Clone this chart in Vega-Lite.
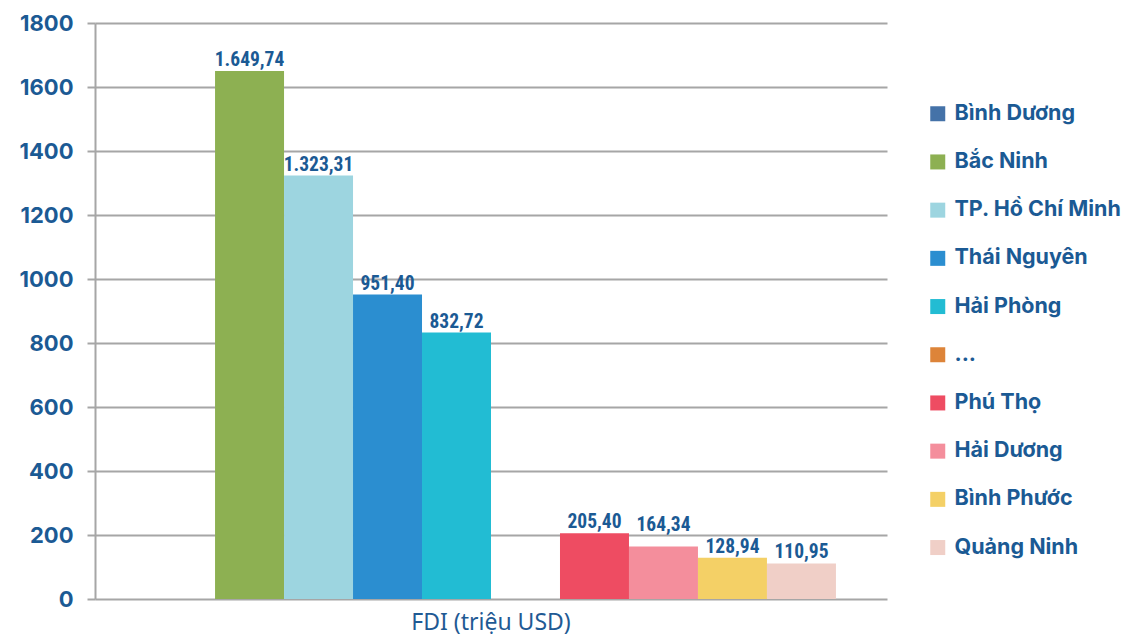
{
  "$schema": "https://vega.github.io/schema/vega-lite/v6.json",
  "autosize": {"type": "none"},
  "width": 792,
  "height": 576,
  "padding": {"left": 95, "top": 23, "right": 243, "bottom": 38},
  "background": "white",
  "data": {
    "values": [
      {"group": "FDI (triệu USD)", "region": "Bình Dương", "value": null, "label": ""},
      {"group": "FDI (triệu USD)", "region": "Bắc Ninh", "value": 1649.74, "label": "1.649,74"},
      {"group": "FDI (triệu USD)", "region": "TP. Hồ Chí Minh", "value": 1323.31, "label": "1.323,31"},
      {"group": "FDI (triệu USD)", "region": "Thái Nguyên", "value": 951.40, "label": "951,40"},
      {"group": "FDI (triệu USD)", "region": "Hải Phòng", "value": 832.72, "label": "832,72"},
      {"group": "FDI (triệu USD)", "region": "...", "value": null, "label": ""},
      {"group": "FDI (triệu USD)", "region": "Phú Thọ", "value": 205.40, "label": "205,40"},
      {"group": "FDI (triệu USD)", "region": "Hải Dương", "value": 164.34, "label": "164,34"},
      {"group": "FDI (triệu USD)", "region": "Bình Phước", "value": 128.94, "label": "128,94"},
      {"group": "FDI (triệu USD)", "region": "Quảng Ninh", "value": 110.95, "label": "110,95"}
    ]
  },
  "encoding": {
    "x": {
      "field": "group", "type": "nominal",
      "scale": {"paddingInner": 0, "paddingOuter": 0.074},
      "axis": {
        "title": null, "labelAngle": 0, "ticks": false, "domain": false,
        "labelFont": "Noto Sans", "labelFontSize": 23, "labelFontWeight": "normal",
        "labelColor": "#1F5A94", "labelPadding": 12
      }
    },
    "xOffset": {
      "field": "region", "type": "nominal",
      "scale": {
        "domain": ["Bình Dương", "Bắc Ninh", "TP. Hồ Chí Minh", "Thái Nguyên", "Hải Phòng", "...", "Phú Thọ", "Hải Dương", "Bình Phước", "Quảng Ninh"],
        "paddingInner": 0, "paddingOuter": 0
      }
    },
    "y": {
      "field": "value", "type": "quantitative",
      "scale": {"domain": [0, 1800], "nice": false},
      "axis": {
        "title": null, "values": [0, 200, 400, 600, 800, 1000, 1200, 1400, 1600, 1800],
        "format": "d",
        "grid": true, "gridColor": "#A6A6A6", "gridWidth": 2,
        "domain": true, "domainColor": "#A6A6A6", "domainWidth": 2,
        "ticks": true, "tickColor": "#A6A6A6", "tickWidth": 2, "tickSize": 8,
        "labelFont": "Inter", "labelFontSize": 22, "labelFontWeight": "bold",
        "labelColor": "#1B5A94", "labelPadding": 14
      }
    }
  },
  "layer": [
    {
      "mark": {"type": "bar"},
      "encoding": {
        "color": {
          "field": "region", "type": "nominal",
          "scale": {
            "domain": ["Bình Dương", "Bắc Ninh", "TP. Hồ Chí Minh", "Thái Nguyên", "Hải Phòng", "...", "Phú Thọ", "Hải Dương", "Bình Phước", "Quảng Ninh"],
            "range": ["#4472A8", "#8DB052", "#9DD5E0", "#2B8ED0", "#22BCD3", "#DD8439", "#EE4C62", "#F48E9C", "#F4D066", "#F0CFC7"]
          },
          "legend": {
            "title": null, "orient": "none", "legendX": 832, "legendY": 80,
            "symbolType": "square", "symbolSize": 225, "symbolStrokeWidth": 0,
            "labelFont": "Inter", "labelFontSize": 21.5, "labelFontWeight": "bold",
            "labelColor": "#1B5A94", "labelOffset": 6, "rowPadding": 25.2,
            "labelLimit": 300
          }
        }
      }
    },
    {
      "transform": [{"filter": "datum.region !== 'Hải Dương'"}],
      "mark": {"type": "text", "baseline": "alphabetic", "dy": -5, "font": "Roboto Condensed, Roboto", "fontSize": 19.5, "fontWeight": "bold", "color": "#1B5A94"},
      "encoding": {"text": {"field": "label"}}
    },
    {
      "transform": [{"filter": "datum.region === 'Hải Dương'"}],
      "mark": {"type": "text", "baseline": "alphabetic", "dy": -15, "font": "Roboto Condensed, Roboto", "fontSize": 19.5, "fontWeight": "bold", "color": "#1B5A94"},
      "encoding": {"text": {"field": "label"}}
    }
  ],
  "config": {"view": {"stroke": null}}
}
